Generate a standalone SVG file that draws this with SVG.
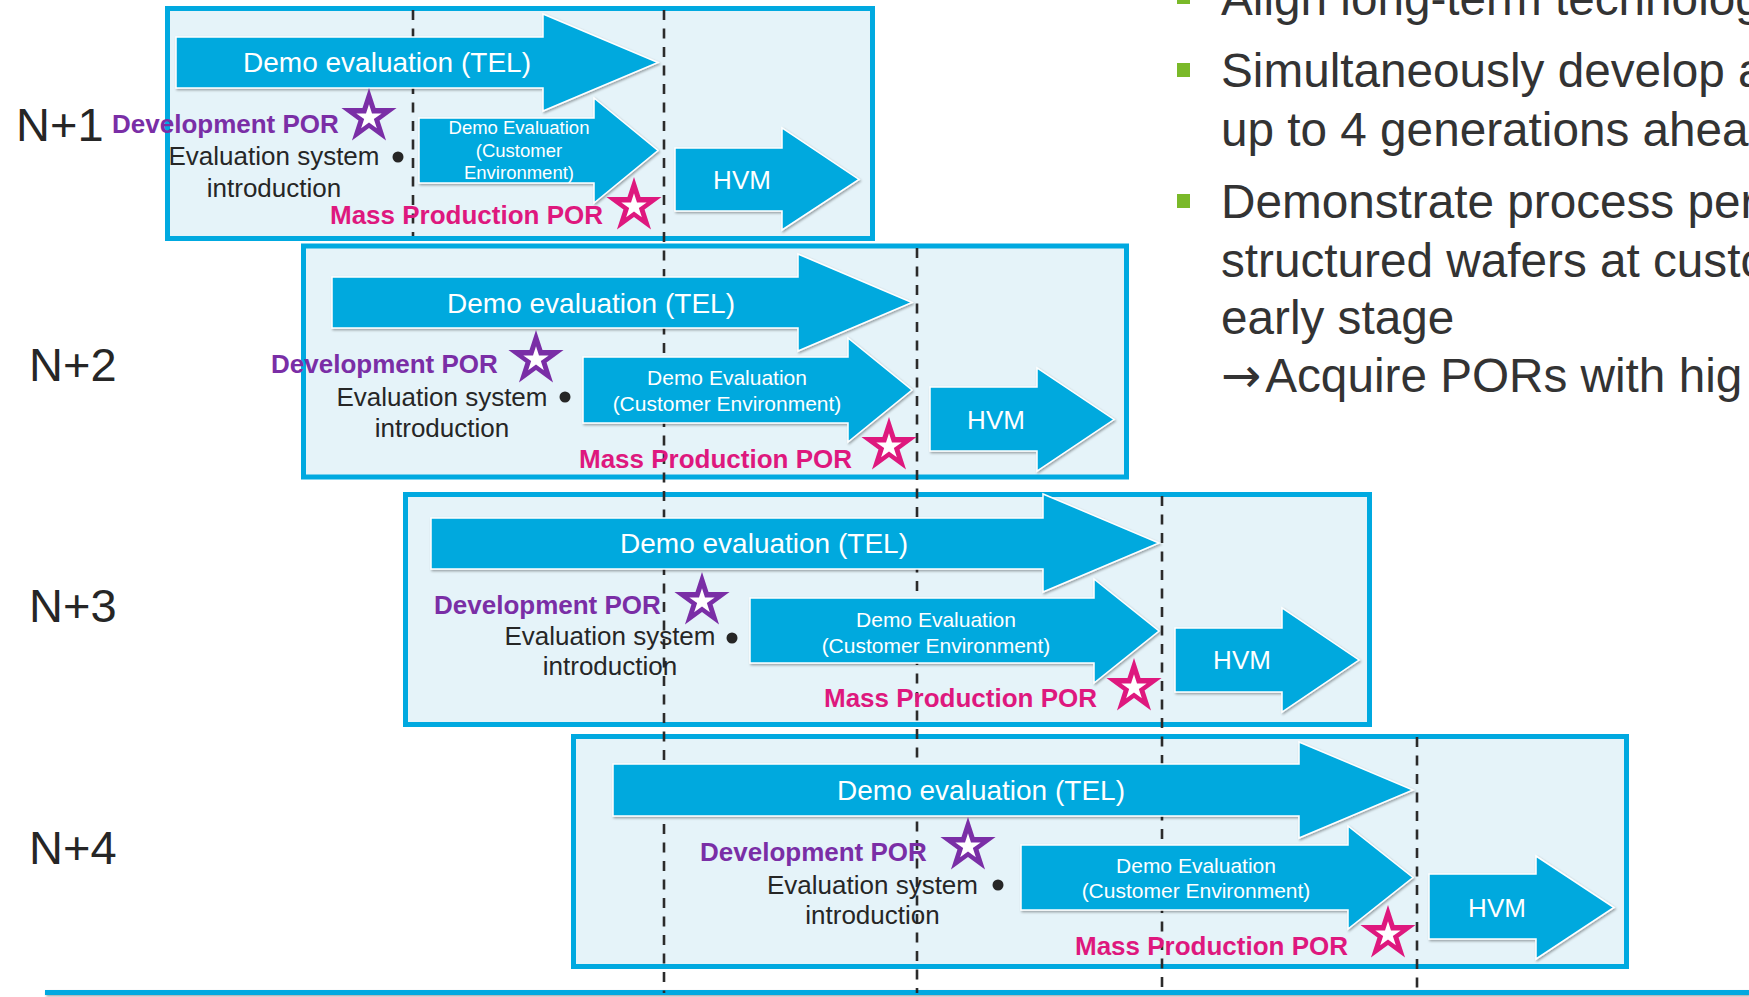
<svg xmlns="http://www.w3.org/2000/svg" width="1749" height="997" viewBox="0 0 1749 997">
  <defs>
    <style>
      .frame { fill: #e5f3f9; stroke: #00a9e0; stroke-width: 5; }
      .arrow { fill: #00a9de; stroke: #ffffff; stroke-width: 1.5; filter: url(#shadow); }
      .guide { stroke: #2b2b2b; stroke-width: 2.6; stroke-dasharray: 10 8.5; fill: none; }
      .axis { fill: #00a9e0; filter: url(#shadow); }
      .t { font-family: "Liberation Sans", Arial, sans-serif; }
      .big { font-size: 28px; fill: #ffffff; text-anchor: middle; }
      .small { font-size: 21px; fill: #ffffff; text-anchor: middle; }
      .small1 { font-size: 18.5px; fill: #ffffff; text-anchor: middle; }
      .hvm { font-size: 26px; fill: #ffffff; text-anchor: middle; }
      .dev { font-size: 26px; font-weight: bold; fill: #7a2ea6; }
      .mass { font-size: 26px; font-weight: bold; fill: #de187e; }
      .note { font-size: 26px; fill: #262626; text-anchor: middle; }
      .gen { font-size: 47px; fill: #262626; }
      .side { font-size: 47.7px; fill: #333333; }
      .sym { font-family: "DejaVu Sans", sans-serif; font-size: 48px; }
      .bullet { fill: #7ab929; }
      .dot { fill: #262626; }
      .star-dev { fill: #7a2ea6; }
      .star-mass { fill: #de187e; }
      .star-core { fill: #ffffff; }
    </style>
    <filter id="shadow" x="-5%" y="-10%" width="110%" height="140%">
      <feDropShadow dx="1.2" dy="1.5" stdDeviation="1" flood-color="#000000" flood-opacity="0.35"/>
    </filter>
    <path id="star" d="M0,-29 L6.51,-8.96 L27.58,-8.96 L10.54,3.42 L17.05,23.46 L0,11.08 L-17.05,23.46 L-10.54,3.42 L-27.58,-8.96 L-6.51,-8.96 Z"/>
  </defs>

  <!-- generation frames -->
  <g id="frames">
    <rect id="frame-n1" class="frame" x="167.5" y="8.5" width="705" height="230"/>
    <rect id="frame-n2" class="frame" x="303.5" y="246" width="823" height="231"/>
    <rect id="frame-n3" class="frame" x="405.5" y="494.5" width="964" height="230"/>
    <rect id="frame-n4" class="frame" x="573.5" y="736.5" width="1053" height="230"/>
  </g>

  <!-- timeline guides and base axis -->
  <g id="connectors">
    <rect class="axis" x="45" y="990" width="1704" height="5"/>
    <line class="guide" x1="413" y1="10" x2="413" y2="236"/>
    <line class="guide" x1="664" y1="10" x2="664" y2="993"/>
    <line class="guide" x1="917" y1="248" x2="917" y2="993"/>
    <line class="guide" x1="1162" y1="496" x2="1162" y2="993"/>
    <line class="guide" x1="1417" y1="737" x2="1417" y2="993"/>
  </g>

  <!-- N+1 -->
  <g id="row-n1" class="t">
    <text id="label-n1" class="gen" x="16" y="141">N+1</text>
    <g id="n1-demo-tel">
      <path class="arrow" d="M176,37 H543 V14 L658,62.5 L543,111 V88 H176 Z"/>
      <text class="big" x="387" y="72">Demo evaluation (TEL)</text>
    </g>
    <g id="n1-demo-customer">
      <path class="arrow" d="M419,118 H594 V98 L658,150.5 L594,203 V183 H419 Z"/>
      <text class="small1" x="519" y="134">Demo Evaluation</text>
      <text class="small1" x="519" y="156.5">(Customer</text>
      <text class="small1" x="519" y="179">Environment)</text>
    </g>
    <g id="n1-hvm">
      <path class="arrow" d="M675,148 H782 V128 L859,179.5 L782,230 V211 H675 Z"/>
      <text class="hvm" x="742" y="189">HVM</text>
    </g>
    <g id="n1-dev-por">
      <text class="dev" x="112" y="133">Development POR</text>
      <use href="#star" class="star-dev" transform="translate(369,117)"/>
      <use href="#star" class="star-core" transform="translate(369,117.5) scale(0.46)"/>
    </g>
    <g id="n1-eval-system">
      <text class="note" x="274" y="165">Evaluation system</text>
      <text class="note" x="274" y="197">introduction</text>
      <circle class="dot" cx="398" cy="157" r="5.5"/>
    </g>
    <g id="n1-mass-por">
      <text class="mass" x="330" y="224">Mass Production POR</text>
      <use href="#star" class="star-mass" transform="translate(634,206)"/>
      <use href="#star" class="star-core" transform="translate(634,206.5) scale(0.46)"/>
    </g>
  </g>

  <!-- N+2 -->
  <g id="row-n2" class="t">
    <text id="label-n2" class="gen" x="29" y="381">N+2</text>
    <g id="n2-demo-tel">
      <path class="arrow" d="M332,277 H798 V254 L912,302.5 L798,351 V328 H332 Z"/>
      <text class="big" x="591" y="313">Demo evaluation (TEL)</text>
    </g>
    <g id="n2-demo-customer">
      <path class="arrow" d="M583,357 H848 V338 L912,390 L848,442 V423 H583 Z"/>
      <text class="small" x="727" y="385">Demo Evaluation</text>
      <text class="small" x="727" y="411">(Customer Environment)</text>
    </g>
    <g id="n2-hvm">
      <path class="arrow" d="M930,387 H1037 V368 L1114,419.5 L1037,471 V451 H930 Z"/>
      <text class="hvm" x="996" y="429">HVM</text>
    </g>
    <g id="n2-dev-por">
      <text class="dev" x="271" y="373">Development POR</text>
      <use href="#star" class="star-dev" transform="translate(536,359)"/>
      <use href="#star" class="star-core" transform="translate(536,359.5) scale(0.46)"/>
    </g>
    <g id="n2-eval-system">
      <text class="note" x="442" y="406">Evaluation system</text>
      <text class="note" x="442" y="437">introduction</text>
      <circle class="dot" cx="565" cy="397" r="5.5"/>
    </g>
    <g id="n2-mass-por">
      <text class="mass" x="579" y="468">Mass Production POR</text>
      <use href="#star" class="star-mass" transform="translate(889,446)"/>
      <use href="#star" class="star-core" transform="translate(889,446.5) scale(0.46)"/>
    </g>
  </g>

  <!-- N+3 -->
  <g id="row-n3" class="t">
    <text id="label-n3" class="gen" x="29" y="622">N+3</text>
    <g id="n3-demo-tel">
      <path class="arrow" d="M431,518 H1043 V494 L1159,543 L1043,592 V569 H431 Z"/>
      <text class="big" x="764" y="553">Demo evaluation (TEL)</text>
    </g>
    <g id="n3-demo-customer">
      <path class="arrow" d="M750,598 H1094 V579 L1159,631 L1094,683 V663 H750 Z"/>
      <text class="small" x="936" y="627">Demo Evaluation</text>
      <text class="small" x="936" y="653">(Customer Environment)</text>
    </g>
    <g id="n3-hvm">
      <path class="arrow" d="M1175,628 H1282 V608 L1359,660 L1282,712 V692 H1175 Z"/>
      <text class="hvm" x="1242" y="669">HVM</text>
    </g>
    <g id="n3-dev-por">
      <text class="dev" x="434" y="614">Development POR</text>
      <use href="#star" class="star-dev" transform="translate(702,601)"/>
      <use href="#star" class="star-core" transform="translate(702,601.5) scale(0.46)"/>
    </g>
    <g id="n3-eval-system">
      <text class="note" x="610" y="645">Evaluation system</text>
      <text class="note" x="610" y="675">introduction</text>
      <circle class="dot" cx="732" cy="638" r="5.5"/>
    </g>
    <g id="n3-mass-por">
      <text class="mass" x="824" y="707">Mass Production POR</text>
      <use href="#star" class="star-mass" transform="translate(1134,687)"/>
      <use href="#star" class="star-core" transform="translate(1134,687.5) scale(0.46)"/>
    </g>
  </g>

  <!-- N+4 -->
  <g id="row-n4" class="t">
    <text id="label-n4" class="gen" x="29" y="864">N+4</text>
    <g id="n4-demo-tel">
      <path class="arrow" d="M613,764 H1299 V742 L1413,790 L1299,838 V816 H613 Z"/>
      <text class="big" x="981" y="800">Demo evaluation (TEL)</text>
    </g>
    <g id="n4-demo-customer">
      <path class="arrow" d="M1021,845 H1348 V826 L1413,877.5 L1348,929 V910 H1021 Z"/>
      <text class="small" x="1196" y="873">Demo Evaluation</text>
      <text class="small" x="1196" y="898">(Customer Environment)</text>
    </g>
    <g id="n4-hvm">
      <path class="arrow" d="M1429,874 H1536 V856 L1614,907.5 L1536,959 V939 H1429 Z"/>
      <text class="hvm" x="1497" y="917">HVM</text>
    </g>
    <g id="n4-dev-por">
      <text class="dev" x="700" y="861">Development POR</text>
      <use href="#star" class="star-dev" transform="translate(968,846)"/>
      <use href="#star" class="star-core" transform="translate(968,846.5) scale(0.46)"/>
    </g>
    <g id="n4-eval-system">
      <text class="note" x="872.5" y="894">Evaluation system</text>
      <text class="note" x="872.5" y="924">introduction</text>
      <circle class="dot" cx="998" cy="885" r="5.5"/>
    </g>
    <g id="n4-mass-por">
      <text class="mass" x="1075" y="955">Mass Production POR</text>
      <use href="#star" class="star-mass" transform="translate(1388,934)"/>
      <use href="#star" class="star-core" transform="translate(1388,934.5) scale(0.46)"/>
    </g>
  </g>

  <!-- bullet list on the right -->
  <g id="side-notes" class="t">
    <rect class="bullet" x="1177" y="-10" width="13" height="14"/>
    <text class="side" x="1221" y="15">Align long-term technolog</text>
    <rect class="bullet" x="1177" y="63" width="13" height="14"/>
    <text class="side" x="1221" y="87">Simultaneously develop a</text>
    <text class="side" x="1221" y="146">up to 4 generations ahea</text>
    <rect class="bullet" x="1177" y="194" width="13" height="14"/>
    <text class="side" x="1221" y="218">Demonstrate process per</text>
    <text class="side" x="1221" y="277">structured wafers at custo</text>
    <text class="side" x="1221" y="334">early stage</text>
    <text class="side" x="1221" y="392"><tspan class="sym">→</tspan><tspan dx="4">Acquire PORs with hig</tspan></text>
  </g>
</svg>
